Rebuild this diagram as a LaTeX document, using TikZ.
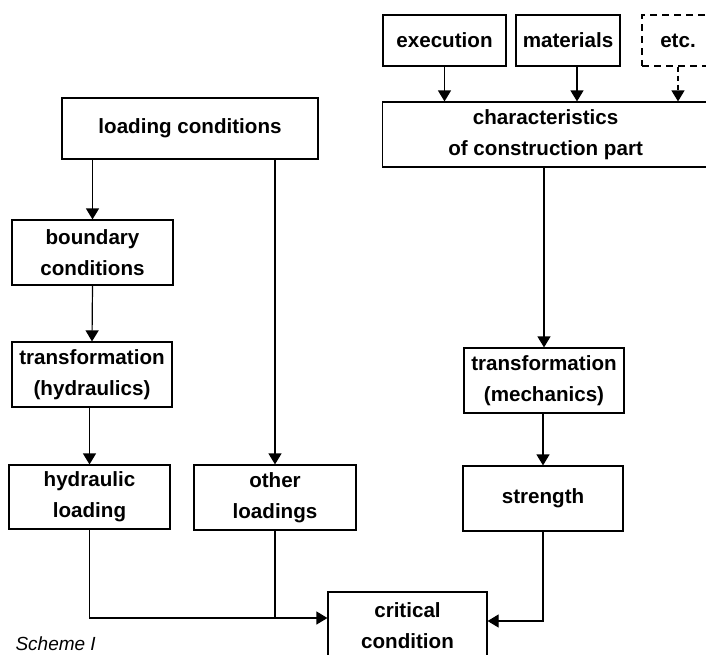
\documentclass[tikz,border=0pt]{standalone}
\usepackage{fontspec}
\setmainfont{Liberation Sans}
\usetikzlibrary{arrows.meta}
\begin{document}
\begin{tikzpicture}[x=1pt,y=-1pt,
    box/.style={draw, line width=1.2pt, align=center, inner sep=0pt,
        font=\fontsize{20.6}{31}\selectfont\bfseries},
    flow/.style={line width=1.2pt, -{Triangle[width=13pt,length=11pt]}}]
    \useasboundingbox (0,0) rectangle (706,654);

    % Boxes
    \node[box, minimum width=123, minimum height=51] (exec) at (444.5,40.5) {execution};
    \node[box, minimum width=104, minimum height=51] (mat) at (568,40.5) {materials};
    \node[box, dash pattern=on 7pt off 5pt, minimum width=72, minimum height=51] (etc) at (678,40.5) {etc.};
    \node[box, anchor=west, minimum width=326, minimum height=65] (char) at (382,134.5) {characteristics\\of construction part};
    \node[box, minimum width=256, minimum height=61] (loadc) at (190,128.5) {loading conditions};
    \node[box, minimum width=161, minimum height=65] (bound) at (92.5,252.5) {boundary\\conditions};
    \node[box, minimum width=160, minimum height=65] (transh) at (92,374.5) {transformation\\(hydraulics)};
    \node[box, minimum width=161, minimum height=64] (hydl) at (89.5,497) {hydraulic\\loading};
    \node[box, minimum width=162, minimum height=65] (other) at (275,497.5) {other\\loadings};
    \node[box, minimum width=160, minimum height=65] (transm) at (544,380.5) {transformation\\(mechanics)};
    \node[box, minimum width=160, minimum height=65] (strength) at (543,498.5) {strength};
    \node[box, minimum width=159, minimum height=68] (crit) at (407.5,626) {critical\\condition};

    % Connectors
    \draw[flow] (exec.south) -- (exec.south |- char.north);
    \draw[flow] ([xshift=9pt]mat.south) -- ([xshift=9pt]mat.south |- char.north);
    \draw[flow, dash pattern=on 5pt off 4pt] (etc.south) -- (etc.south |- char.north);
    \draw[flow] (transm.north |- char.south) -- (transm.north);
    \draw[flow] (bound.north |- loadc.south) -- (bound.north);
    \draw[flow] (other.north |- loadc.south) -- (other.north);
    \draw[flow] (bound.south) -- (transh.north);
    \draw[flow] (hydl.north |- transh.south) -- (hydl.north);
    \draw[flow] (strength.north |- transm.south) -- (strength.north);
    \coordinate (critL) at ([yshift=8pt]crit.west);
    \draw[flow] (hydl.south) |- (critL);
    \draw[line width=1.2pt] (other.south) -- (other.south |- critL);
    \draw[flow] (strength.south) |- ([yshift=5pt]crit.east);

    \node[anchor=base west, font=\fontsize{19}{23}\selectfont\itshape] (scheme) at (12,650) {Scheme I};
\end{tikzpicture}
\end{document}
